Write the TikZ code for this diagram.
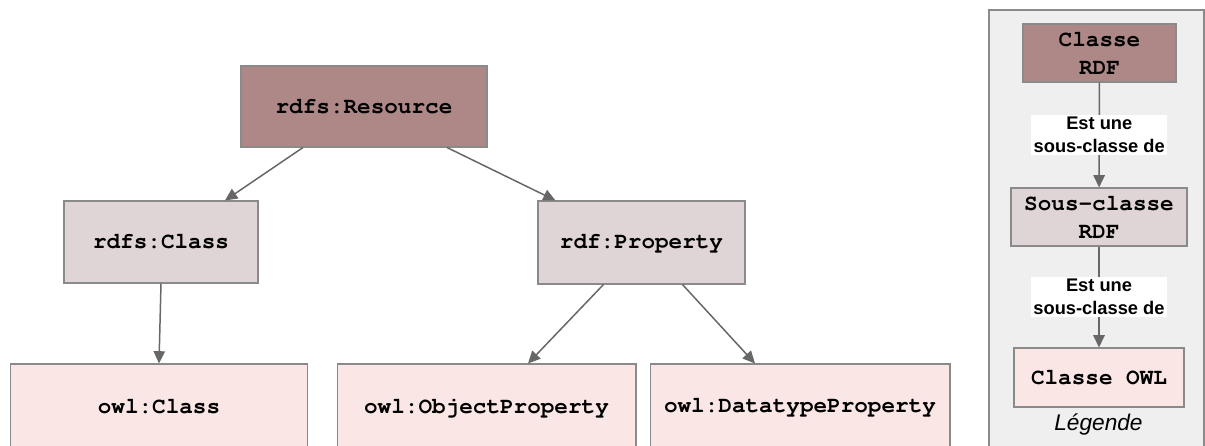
\documentclass[tikz,border=0pt]{standalone}
\usepackage[T1]{fontenc}
\usepackage{fontspec}
\setmainfont{Liberation Serif}
\setsansfont{Liberation Sans}
\setmonofont{Liberation Mono}
\usepackage{tikz}
\usetikzlibrary{arrows.meta, calc}
\definecolor{rdfdark}{HTML}{AD8886}
\definecolor{rdfmid}{HTML}{E0D5D6}
\definecolor{owllight}{HTML}{FAE6E4}
\definecolor{boxline}{HTML}{8A8A8A}
\definecolor{arrowgray}{HTML}{676767}
\definecolor{legendbg}{HTML}{EFEFEF}
\newcommand{\courierb}{\fontencoding{T1}\fontfamily{pcr}\fontseries{b}\fontsize{12.9}{16}\selectfont}

\begin{document}
\begin{tikzpicture}[x=0.02cm, y=-0.02cm,
    classbox/.style={draw=boxline, line width=0.6pt, align=center, inner sep=0pt,
        font=\courierb},
    rdfclass/.style={classbox, fill=rdfdark},
    rdfsub/.style={classbox, fill=rdfmid},
    owlclass/.style={classbox, fill=owllight},
    arr/.style={draw=arrowgray, line width=0.85pt, -{Triangle[length=7pt, width=6.5pt]}},
    lbl/.style={fill=white, align=center, inner sep=1.5pt,
        font=\fontsize{10.4}{13}\selectfont\sffamily\bfseries}]
    \useasboundingbox (0,0) rectangle (1205,446);

    % Legend panel
    \draw[boxline, fill=legendbg, line width=0.9pt] (989,10) rectangle (1204,470);

    % Hierarchy
    \node[rdfclass, minimum width=4.92cm, minimum height=1.62cm] (res) at (364,106.5) {rdfs:Resource};
    \node[rdfsub, minimum width=3.88cm, minimum height=1.64cm] (cls) at (161,242) {rdfs:Class};
    \node[rdfsub, minimum width=4.14cm, minimum height=1.66cm] (prop) at (641.5,242.5) {rdf:Property};
    \node[owlclass, minimum width=5.96cm, minimum height=1.72cm] (owlcls) at (159,407) {owl:Class};
    \node[owlclass, minimum width=5.98cm, minimum height=1.72cm] (objprop) at (486.5,407) {owl:ObjectProperty};
    \node[owlclass, minimum width=6cm, minimum height=1.72cm] (dtprop) at (800,407) {owl:DatatypeProperty};

    \draw[arr] ($(res.south)+(-61,0)$) -- ($(cls.north)+(64,0)$);
    \draw[arr] ($(res.south)+(83,0)$) -- ($(prop.north)+(-86,0)$);
    \draw[arr] (cls.south) -- (owlcls.north);
    \draw[arr] ($(prop.south)+(-38,0)$) -- ($(objprop.north)+(41.5,0)$);
    \draw[arr] ($(prop.south)+(41,0)$) -- ($(dtprop.north)+(-45,0)$);

    % Legend
    \node[rdfclass, minimum width=3.06cm, minimum height=1.16cm] (leg1) at (1099.5,53) {Classe\\RDF};
    \node[rdfsub, minimum width=3.52cm, minimum height=1.16cm] (leg2) at (1099,217) {Sous-classe\\RDF};
    \node[owlclass, minimum width=3.4cm, minimum height=1.18cm] (leg3) at (1099,377.5) {Classe OWL};
    \draw[arr] (leg1) -- node[lbl] {Est une\\sous-classe de} (leg2);
    \draw[arr] (leg2) -- node[lbl] {Est une\\sous-classe de} (leg3);
    \node[font=\fontsize{12.9}{15}\selectfont\sffamily\itshape] (legtitle) at (1098.5,425) {Légende};
\end{tikzpicture}
\end{document}
